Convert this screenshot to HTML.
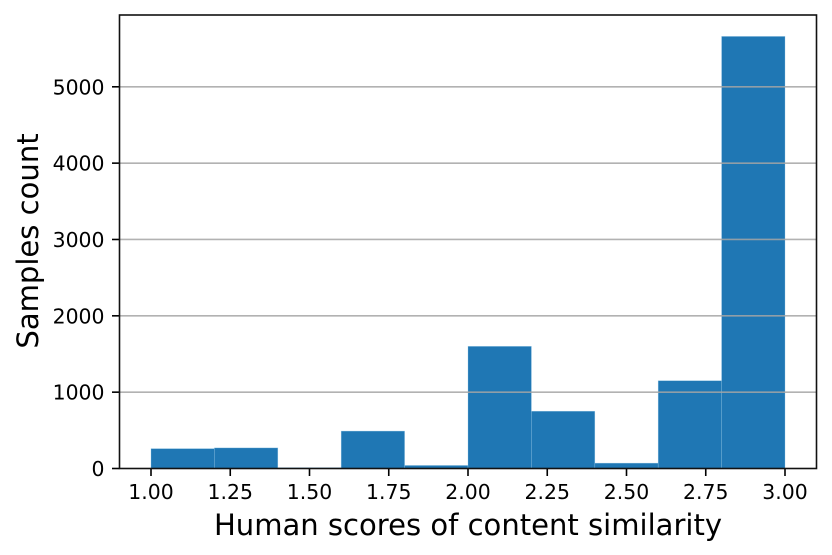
<!DOCTYPE html>
<html lang="en">
<head>
<meta charset="utf-8">
<title>Human scores histogram</title>
<style>
html,body{margin:0;padding:0;background:#fff;width:832px;height:555px;overflow:hidden}
svg{display:block}
text{font-family:"DejaVu Sans","Liberation Sans",sans-serif;fill:#000}
</style>
</head>
<body>
<svg id="chart" width="832" height="555" viewBox="0 0 832 555" xmlns="http://www.w3.org/2000/svg"></svg>
<script>
const binEdges = [1.0, 1.2, 1.4, 1.6, 1.8, 2.0, 2.2, 2.4, 2.6, 2.8, 3.0];
const binCounts = [260, 270, 10, 490, 40, 1600, 750, 70, 1150, 5660];
const xTicks = [1.0, 1.25, 1.5, 1.75, 2.0, 2.25, 2.5, 2.75, 3.0];
const yTicks = [0, 1000, 2000, 3000, 4000, 5000];
const xAxisLabel = 'Human scores of content similarity';
const yAxisLabel = 'Samples count';

const NS = 'http://www.w3.org/2000/svg';
const svg = document.getElementById('chart');
const plot = {left: 119.5, right: 816.5, top: 15, bottom: 468.5};
const xScale = v => 151 + (v - 1) * (785 - 151) / 2;
const yScale = v => 468.5 - v * 0.07634;

function make(tag, attrs, parent) {
  const el = document.createElementNS(NS, tag);
  for (const k in attrs) el.setAttribute(k, attrs[k]);
  (parent || svg).appendChild(el);
  return el;
}

binCounts.forEach((count, i) => {
  const x0 = xScale(binEdges[i]);
  const x1 = xScale(binEdges[i + 1]);
  const bar = make('rect', {x: x0, y: yScale(count), width: x1 - x0, height: yScale(0) - yScale(count), fill: '#1f77b4', stroke: '#8fc4e6', 'stroke-opacity': 0.55, 'stroke-width': 0.6});
  
  
});

yTicks.forEach(t => {
  const y = yScale(t);
  if (t > 0) {
    const grid = make('line', {x1: plot.left, x2: plot.right, y1: y, y2: y, stroke: '#a4a4a4', 'stroke-width': 1.6, 'stroke-opacity': 0.85});
    
    
  }
  const tick = make('line', {x1: plot.left - 7.5, x2: plot.left, y1: y, y2: y, stroke: '#000', 'stroke-width': 1.6});
  
  
  const label = make('text', {x: plot.left - 15, y: y + 7.5, 'text-anchor': 'end', 'font-size': 20.4});
  
  
  label.textContent = String(t);
});

xTicks.forEach(t => {
  const x = xScale(t);
  const tick = make('line', {x1: x, x2: x, y1: plot.bottom, y2: plot.bottom + 7.5, stroke: '#000', 'stroke-width': 1.6});
  
  
  const label = make('text', {x: x, y: 499, 'text-anchor': 'middle', 'font-size': 20.4});
  
  
  label.textContent = t.toFixed(2);
});

const frame = make('rect', {x: plot.left, y: plot.top, width: plot.right - plot.left, height: plot.bottom - plot.top, fill: 'none', stroke: '#111', 'stroke-width': 1.6});



const xTitle = make('text', {x: 468, y: 535, 'text-anchor': 'middle', 'font-size': 29.05});


xTitle.textContent = xAxisLabel;

const yTitle = make('text', {x: 0, y: 0, 'text-anchor': 'middle', 'font-size': 29.05, transform: 'translate(38,241) rotate(-90)'});


yTitle.textContent = yAxisLabel;
</script>
</body>
</html>
